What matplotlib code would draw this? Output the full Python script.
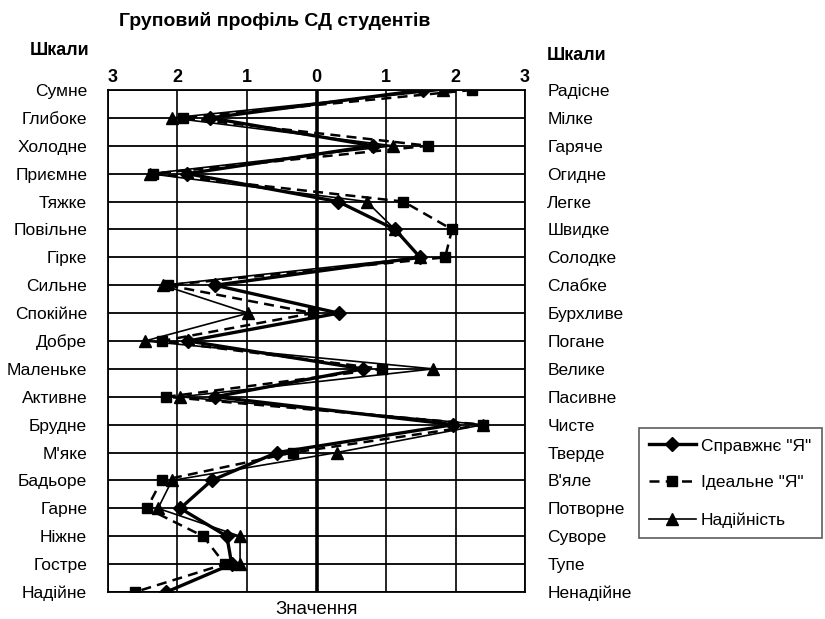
import numpy as np
import matplotlib.pyplot as plt

plt.rcParams['font.family'] = ['Liberation Sans', 'DejaVu Sans']

leftLabels = ['Сумне', 'Глибоке', 'Холодне', 'Приємне', 'Тяжке', 'Повільне',
              'Гірке', 'Сильне', 'Спокійне', 'Добре', 'Маленьке', 'Активне',
              'Брудне', "М'яке", 'Бадьоре', 'Гарне', 'Ніжне', 'Гостре',
              'Надійне']
rightLabels = ['Радісне', 'Мілке', 'Гаряче', 'Огидне', 'Легке', 'Швидке',
               'Солодке', 'Слабке', 'Бурхливе', 'Погане', 'Велике', 'Пасивне',
               'Чисте', 'Тверде', "В'яле", 'Потворне', 'Суворе', 'Тупе',
               'Ненадійне']
realSelf = [1.53, -1.53, 0.81, -1.86, 0.31, 1.13, 1.49, -1.46, 0.32, -1.85,
            0.67, -1.46, 1.97, -0.57, -1.51, -1.96, -1.29, -1.22, -2.16]
idealSelf = [2.24, -1.92, 1.61, -2.35, 1.25, 1.95, 1.85, -2.14, -0.05, -2.23,
             0.94, -2.16, 2.40, -0.34, -2.23, -2.44, -1.63, -1.32, -2.61]
reliability = [1.82, -2.08, 1.10, -2.40, 0.72, 1.13, 1.49, -2.21, -0.98, -2.47,
               1.68, -1.96, 2.40, 0.29, -2.08, -2.28, -1.10, -1.10, np.nan]
xTicks = [-3, -2, -1, 0, 1, 2, 3]

fig = plt.figure(figsize=(8.25, 6.19), dpi=100)
ax = fig.add_axes([0.1309, 0.0436, 0.5055, 0.811])
rows = np.arange(len(leftLabels))

#------------- grid
for y in rows:
    ax.axhline(y, color='black', linewidth=1.3, zorder=1)
for x in xTicks:
    ax.axvline(x, color='black', linewidth=2.6 if x == 0 else 1.2, zorder=1)

#------------- series
ax.plot(realSelf, rows, color='black', linewidth=2.4, marker='D',
        markersize=7, label='Справжнє "Я"', zorder=4)
ax.plot(idealSelf, rows, color='black', linewidth=1.8, linestyle=(0, (4, 2.5)),
        marker='s', markersize=7.5, label='Ідеальне "Я"', zorder=3)
ax.plot(reliability, rows, color='black', linewidth=1.2, marker='^',
        markersize=8.5, label='Надійність', zorder=3)

ax.set_xlim(-3, 3)
ax.set_ylim(len(leftLabels) - 1, 0)
ax.xaxis.tick_top()
ax.set_xticks(xTicks)
ax.set_xticklabels([str(abs(v)) for v in xTicks], fontsize=13,
                   fontweight='bold')
ax.get_xticklabels()[0].set_ha('left')
ax.tick_params(axis='x', length=0, pad=3)
ax.set_yticks(rows)
ax.set_yticklabels(leftLabels, fontsize=12.5)
ax.tick_params(axis='y', length=0, pad=15)
for s in ax.spines.values():
    s.set_linewidth(1.3)

ax2 = ax.twinx()
ax2.set_ylim(ax.get_ylim())
ax2.set_yticks(rows)
ax2.set_yticklabels(rightLabels, fontsize=12.5)
ax2.tick_params(axis='y', length=0, pad=16)
for s in ax2.spines.values():
    s.set_visible(False)

#------------- texts
fig.text(0.333, 0.966, 'Груповий профіль СД студентів', ha='center',
         va='center', fontsize=14, fontweight='bold')
fig.text(0.036, 0.919, 'Шкали', ha='left', va='center', fontsize=13,
         fontweight='bold')
fig.text(0.663, 0.911, 'Шкали', ha='left', va='center', fontsize=13,
         fontweight='bold')
fig.text(0.3836, 0.015, 'Значення', ha='center', va='center', fontsize=13.5)

leg = fig.legend(loc='center', bbox_to_anchor=(0.885, 0.2197), fontsize=12.5,
                 frameon=True, fancybox=False, edgecolor='#333333',
                 labelspacing=1.25, handlelength=2.7, handletextpad=0.3,
                 borderpad=0.6, borderaxespad=0)
leg.get_frame().set_linewidth(1.2)

fig.savefig('out.png', dpi=100)
